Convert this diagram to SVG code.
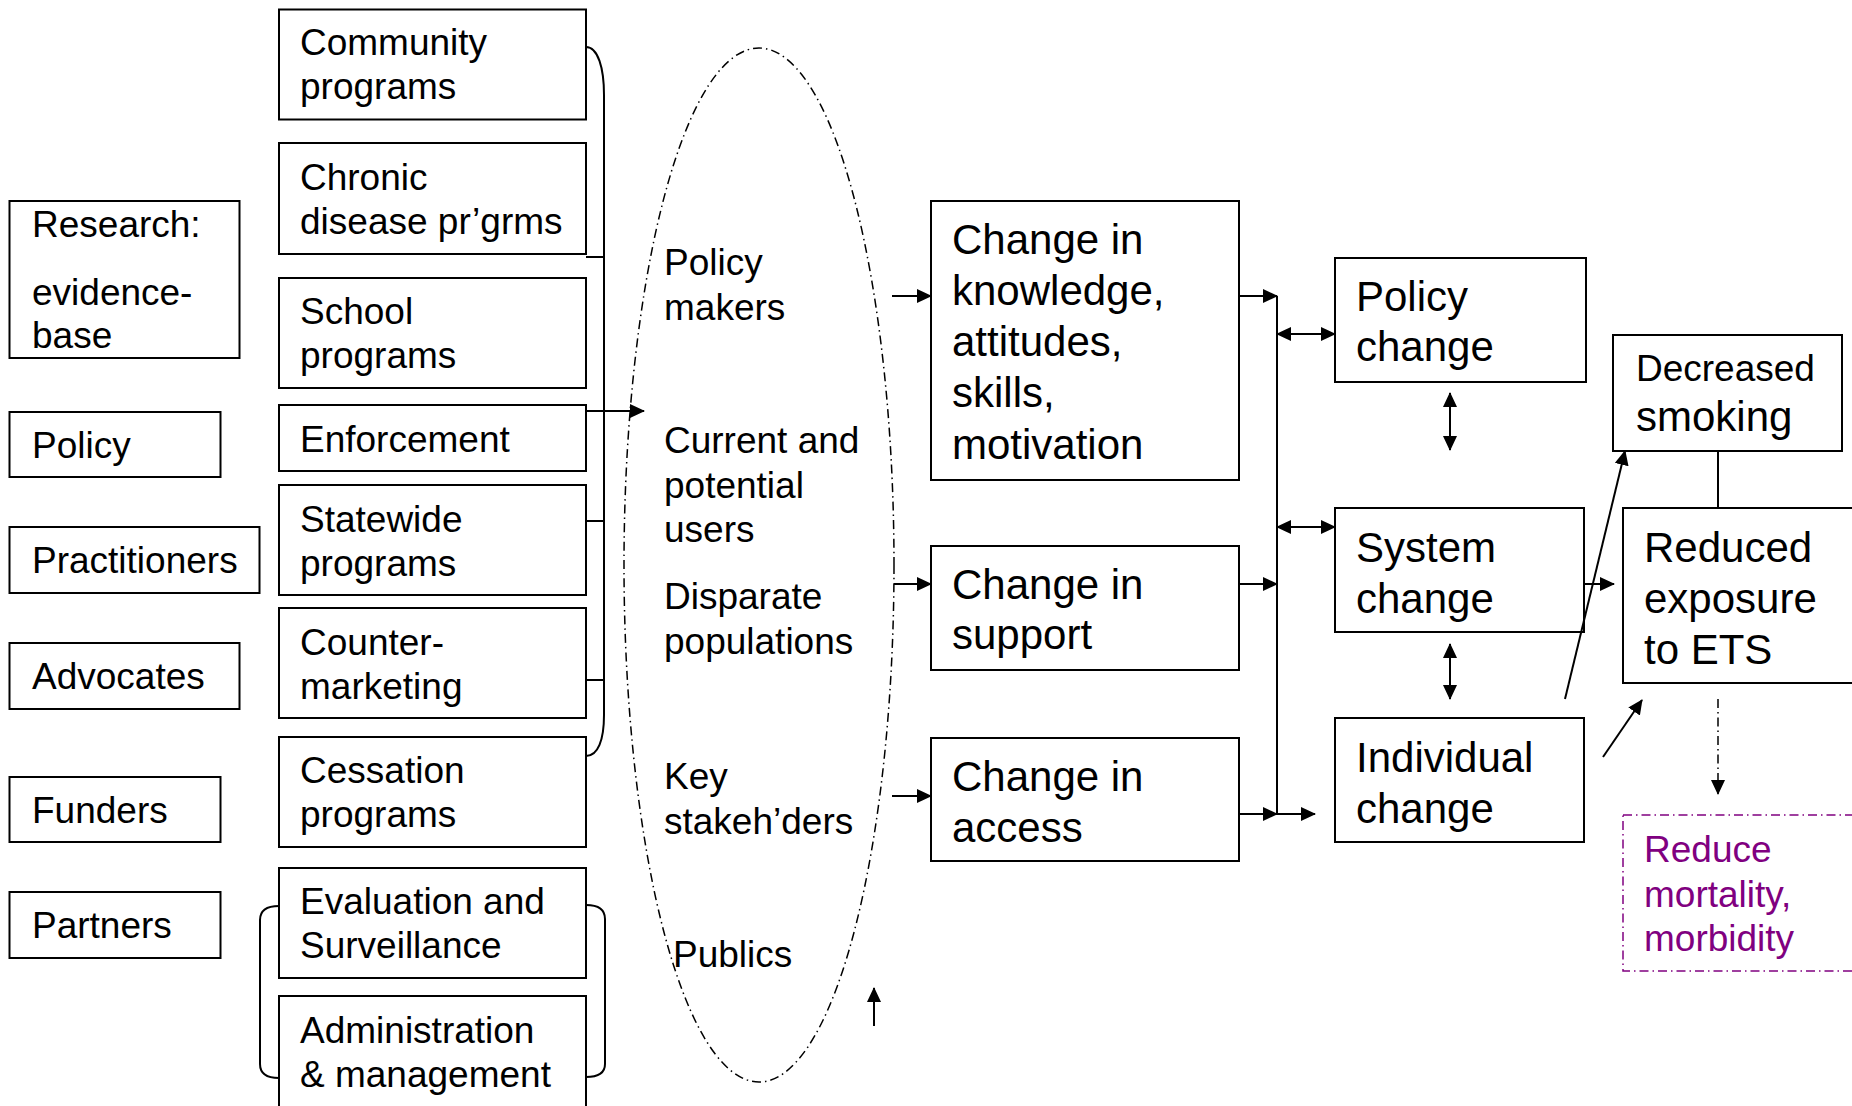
<svg xmlns="http://www.w3.org/2000/svg" width="1852" height="1106" viewBox="0 0 1852 1106">
<style>
.box{fill:#fff;stroke:#000;stroke-width:2}
.t{font-family:"Liberation Sans",Arial,sans-serif;font-size:37px;fill:#000}
.b{font-size:42px}
.ln{fill:none;stroke:#000;stroke-width:2}
.dd{fill:none;stroke:#000;stroke-width:1.5;stroke-dasharray:9 4 1.5 4}
.pur{fill:#800080}
</style>
<defs>
<marker id="ah" markerUnits="userSpaceOnUse" markerWidth="15" markerHeight="14" refX="14" refY="7" orient="auto-start-reverse" viewBox="0 0 15 14">
<path d="M0,0 L15,7 L0,14 z" fill="#000"/>
</marker>
</defs>
<rect width="1852" height="1106" fill="#fff"/>

<g id="research"><rect class="box" x="9.5" y="201" width="230" height="157"/><text class="t"><tspan x="32" y="237">Research:</tspan><tspan x="32" y="305">evidence-</tspan><tspan x="32" y="348">base</tspan></text></g>
<g id="policy"><rect class="box" x="9.5" y="412" width="211" height="65"/><text class="t" x="32" y="458">Policy</text></g>
<g id="practitioners"><rect class="box" x="9.5" y="527" width="250" height="66"/><text class="t" x="32" y="573">Practitioners</text></g>
<g id="advocates"><rect class="box" x="9.5" y="643" width="230" height="66"/><text class="t" x="32" y="689">Advocates</text></g>
<g id="funders"><rect class="box" x="9.5" y="777" width="211" height="65"/><text class="t" x="32" y="823">Funders</text></g>
<g id="partners"><rect class="box" x="9.5" y="892" width="211" height="66"/><text class="t" x="32" y="938">Partners</text></g>

<g id="community"><rect class="box" x="279" y="9.5" width="307" height="110"/><text class="t"><tspan x="300" y="55">Community</tspan><tspan x="300" y="99">programs</tspan></text></g>
<g id="chronic"><rect class="box" x="279" y="143" width="307" height="111"/><text class="t"><tspan x="300" y="190">Chronic</tspan><tspan x="300" y="234">disease pr’grms</tspan></text></g>
<g id="school"><rect class="box" x="279" y="278" width="307" height="110"/><text class="t"><tspan x="300" y="324">School</tspan><tspan x="300" y="368">programs</tspan></text></g>
<g id="enforcement"><rect class="box" x="279" y="405" width="307" height="66"/><text class="t" x="300" y="452">Enforcement</text></g>
<g id="statewide"><rect class="box" x="279" y="485" width="307" height="110"/><text class="t"><tspan x="300" y="532">Statewide</tspan><tspan x="300" y="576">programs</tspan></text></g>
<g id="countermarketing"><rect class="box" x="279" y="608" width="307" height="110"/><text class="t"><tspan x="300" y="655">Counter-</tspan><tspan x="300" y="699">marketing</tspan></text></g>
<g id="cessation"><rect class="box" x="279" y="737" width="307" height="110"/><text class="t"><tspan x="300" y="783">Cessation</tspan><tspan x="300" y="827">programs</tspan></text></g>
<g id="evaluation"><rect class="box" x="279" y="868" width="307" height="110"/><text class="t"><tspan x="300" y="914">Evaluation and</tspan><tspan x="300" y="958">Surveillance</tspan></text></g>
<g id="administration"><rect class="box" x="279" y="996" width="307" height="112"/><text class="t"><tspan x="300" y="1043">Administration</tspan><tspan x="300" y="1087">&amp; management</tspan></text></g>

<g id="audiences">
<ellipse class="dd" cx="759" cy="565" rx="135" ry="517"/>
<text class="t"><tspan x="664" y="275">Policy</tspan><tspan x="664" y="320">makers</tspan></text>
<text class="t"><tspan x="664" y="453">Current and</tspan><tspan x="664" y="498">potential</tspan><tspan x="664" y="542">users</tspan></text>
<text class="t"><tspan x="664" y="609">Disparate</tspan><tspan x="664" y="654">populations</tspan></text>
<text class="t"><tspan x="664" y="789">Key</tspan><tspan x="664" y="834">stakeh’ders</tspan></text>
<text class="t" x="673" y="967">Publics</text>
</g>

<g id="kas"><rect class="box" x="931" y="201" width="308" height="279"/><text class="t b"><tspan x="952" y="254">Change in</tspan><tspan x="952" y="305">knowledge,</tspan><tspan x="952" y="356">attitudes,</tspan><tspan x="952" y="407">skills,</tspan><tspan x="952" y="459">motivation</tspan></text></g>
<g id="support"><rect class="box" x="931" y="546" width="308" height="124"/><text class="t b"><tspan x="952" y="599">Change in</tspan><tspan x="952" y="649">support</tspan></text></g>
<g id="access"><rect class="box" x="931" y="738" width="308" height="123"/><text class="t b"><tspan x="952" y="791">Change in</tspan><tspan x="952" y="842">access</tspan></text></g>

<g id="policychange"><rect class="box" x="1335" y="258" width="251" height="124"/><text class="t b"><tspan x="1356" y="311">Policy</tspan><tspan x="1356" y="361">change</tspan></text></g>
<g id="systemchange"><rect class="box" x="1335" y="508" width="249" height="124"/><text class="t b"><tspan x="1356" y="562">System</tspan><tspan x="1356" y="613">change</tspan></text></g>
<g id="individualchange"><rect class="box" x="1335" y="718" width="249" height="124"/><text class="t b"><tspan x="1356" y="772">Individual</tspan><tspan x="1356" y="823">change</tspan></text></g>

<g id="decreased"><rect class="box" x="1613" y="335" width="229" height="116"/><text class="t"><tspan x="1636" y="381">Decreased</tspan><tspan class="b" x="1636" y="431">smoking</tspan></text></g>
<g id="reduced"><rect class="box" x="1623" y="508" width="240" height="175"/><text class="t b"><tspan x="1644" y="562">Reduced</tspan><tspan x="1644" y="613">exposure</tspan><tspan x="1644" y="664">to ETS</tspan></text></g>
<g id="mortality"><rect x="1623" y="815" width="240" height="156" fill="none" stroke="#800080" stroke-width="1.5" stroke-dasharray="9 4 1.5 4"/><text class="t pur"><tspan x="1644" y="862">Reduce</tspan><tspan x="1644" y="907">mortality,</tspan><tspan x="1644" y="951">morbidity</tspan></text></g>

<g id="connectors">
<path class="ln" d="M586,47 C598,47 604,68 604,95 L604,715 C604,740 598,756 586,756"/>
<path class="ln" d="M586,257 H604 M586,521 H604 M586,680 H604"/>
<path class="ln" d="M586,411 H644" marker-end="url(#ah)"/>
<path class="ln" d="M279,906 C266,906 260,911 260,920 L260,1064 C260,1073 266,1078 279,1078"/>
<path class="ln" d="M586,905 C599,905 605,910 605,919 L605,1064 C605,1072 599,1077 586,1077"/>
<path class="ln" d="M892,296 H931" marker-end="url(#ah)"/>
<path class="ln" d="M894,584 H931" marker-end="url(#ah)"/>
<path class="ln" d="M892,796 H931" marker-end="url(#ah)"/>
<path class="ln" d="M874,1026 V988" marker-end="url(#ah)"/>
<path class="ln" d="M1239,296 H1277" marker-end="url(#ah)"/>
<path class="ln" d="M1239,584 H1277" marker-end="url(#ah)"/>
<path class="ln" d="M1239,814 H1277" marker-end="url(#ah)"/>
<path class="ln" d="M1277,296 V814"/>
<path class="ln" d="M1277,814 H1315" marker-end="url(#ah)"/>
<path class="ln" d="M1277,334 H1335" marker-start="url(#ah)" marker-end="url(#ah)"/>
<path class="ln" d="M1277,527 H1335" marker-start="url(#ah)" marker-end="url(#ah)"/>
<path class="ln" d="M1450,393 V450" marker-start="url(#ah)" marker-end="url(#ah)"/>
<path class="ln" d="M1450,644 V699" marker-start="url(#ah)" marker-end="url(#ah)"/>
<path class="ln" d="M1584,584 H1614" marker-end="url(#ah)"/>
<path class="ln" d="M1565,699 L1625,451" marker-end="url(#ah)"/>
<path class="ln" d="M1603,757 L1642,700" marker-end="url(#ah)"/>
<path class="ln" d="M1718,451 V508"/>
<path class="dd" d="M1718,699 V794" marker-end="url(#ah)"/>
</g>
</svg>
